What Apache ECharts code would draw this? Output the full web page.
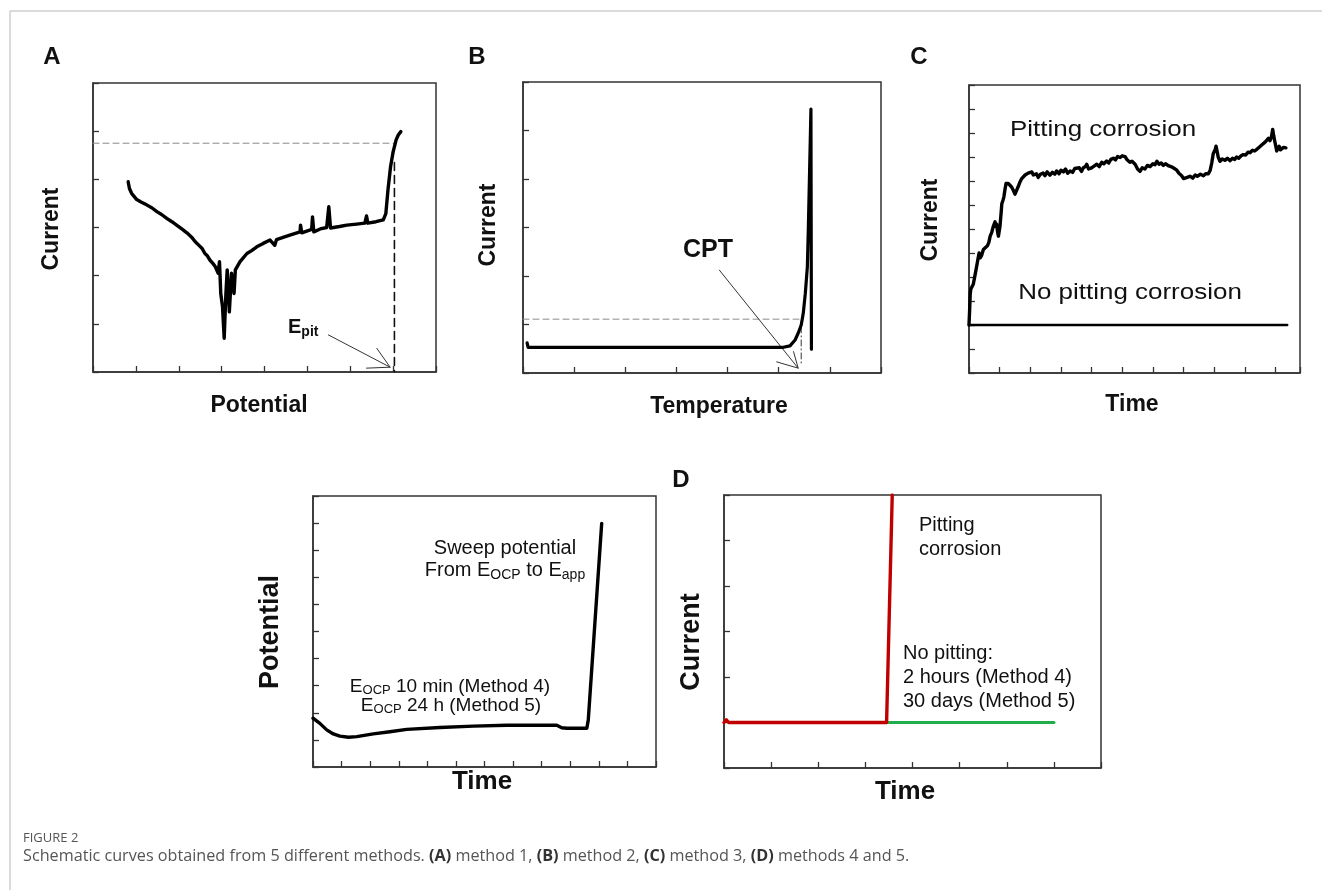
<!DOCTYPE html>
<html><head><meta charset="utf-8">
<script src="https://cdn.jsdelivr.net/npm/echarts@6/dist/echarts.min.js"></script>
<style>html,body{margin:0;padding:0;background:#fff}#c{width:1322px;height:890px}</style>
</head><body><div id="c"></div>
<script>
// ---------- Panel A: potentiodynamic polarization (Current vs Potential) ----------
const panelA_curve = [[0.82,3.95],[0.85,3.81],[0.9,3.71],[1.02,3.58],[1.12,3.53],[1.25,3.47],[1.37,3.41],[1.49,3.33],[1.6,3.27],[1.72,3.19],[1.84,3.12],[1.95,3.05],[2.07,2.97],[2.19,2.89],[2.3,2.8],[2.38,2.71],[2.46,2.64],[2.54,2.57],[2.61,2.46],[2.66,2.42],[2.73,2.32],[2.8,2.25],[2.85,2.19],[2.92,2.05],[2.95,2.29],[2.98,1.63],[3.02,1.36],[3.06,0.7],[3.1,1.63],[3.13,2.12],[3.18,1.25],[3.23,2.05],[3.29,1.63],[3.32,2.12],[3.43,2.29],[3.59,2.46],[3.7,2.52],[3.82,2.6],[3.97,2.67],[4.13,2.74],[4.24,2.63],[4.28,2.75],[4.45,2.8],[4.59,2.84],[4.83,2.91],[4.84,3.05],[4.87,2.89],[5.1,2.96],[5.12,3.22],[5.15,2.91],[5.3,2.97],[5.45,3.0],[5.5,3.43],[5.54,2.99],[5.75,3.02],[5.92,3.05],[6.15,3.07],[6.34,3.09],[6.38,3.24],[6.41,3.09],[6.6,3.12],[6.77,3.16],[6.83,3.29],[6.88,3.78],[6.94,4.26],[7.0,4.57],[7.07,4.82],[7.12,4.92],[7.18,4.99]];
const panelA_hDash = [[0,4.75],[7.03,4.75]];
const panelA_vDash = [[7.03,4.35],[7.03,0]];
const panelA_arrowShaft = [[5.49,0.77],[6.93,0.1]];
const panelA_arrowHead = [[6.62,0.49],[6.93,0.1],[6.38,0.08]];

// ---------- Panel B: critical pitting temperature (Current vs Temperature) ----------
const panelB_curve = [[0.08,0.62],[0.1,0.53],[0.5,0.53],[1.57,0.53],[3.0,0.53],[5.09,0.53],[5.22,0.56],[5.32,0.68],[5.38,0.82],[5.44,0.99],[5.48,1.23],[5.52,1.64],[5.56,2.19],[5.58,3.02],[5.6,3.98],[5.63,5.44],[5.64,5.44],[5.64,0.49]];
const panelB_hDash = [[0,1.11],[5.42,1.11]];
const panelB_vDashDot = [[5.44,0.95],[5.44,0.16]];
const panelB_arrowShaft = [[3.84,2.12],[5.38,0.1]];
const panelB_arrowHead = [[4.96,0.23],[5.38,0.1],[5.29,0.44]];

// ---------- Panel C: potentiostatic (Current vs Time) ----------
const panelC_pitting = [[0,2.0],[0.02,2.6],[0.04,3.3],[0.06,3.5],[0.1,3.45],[0.14,3.7],[0.2,4.1],[0.25,4.45],[0.3,4.8],[0.33,5.0],[0.37,4.8],[0.41,4.9],[0.47,5.15],[0.53,5.1],[0.6,5.3],[0.65,5.45],[0.69,5.7],[0.74,5.85],[0.79,6.1],[0.85,6.3],[0.88,6.1],[0.9,6.2],[0.93,5.9],[0.96,5.7],[1.01,6.1],[1.05,6.7],[1.07,7.05],[1.11,7.2],[1.14,7.35],[1.18,7.7],[1.21,7.9],[1.25,7.95],[1.28,7.9],[1.33,7.95],[1.39,7.75],[1.45,7.6],[1.5,7.45],[1.55,7.6],[1.61,7.78],[1.66,7.95],[1.72,8.1],[1.78,8.05],[1.83,8.25],[1.88,8.2],[1.93,8.33],[1.98,8.4],[2.05,8.38],[2.1,8.25],[2.15,8.18],[2.2,8.3],[2.26,8.15],[2.33,8.28],[2.42,8.33],[2.48,8.22],[2.55,8.38],[2.64,8.24],[2.72,8.36],[2.8,8.28],[2.86,8.42],[2.94,8.3],[3.0,8.45],[3.08,8.38],[3.15,8.5],[3.22,8.32],[3.3,8.42],[3.38,8.36],[3.45,8.52],[3.51,8.44],[3.6,8.55],[3.67,8.4],[3.73,8.55],[3.8,8.6],[3.84,8.7],[3.9,8.5],[4.0,8.55],[4.08,8.62],[4.17,8.7],[4.25,8.6],[4.33,8.78],[4.4,8.72],[4.49,8.83],[4.56,8.75],[4.63,8.9],[4.71,8.95],[4.78,8.88],[4.85,9.02],[4.93,8.98],[5.0,9.05],[5.09,9.02],[5.15,8.9],[5.25,8.78],[5.32,8.82],[5.42,8.7],[5.5,8.5],[5.58,8.4],[5.65,8.55],[5.74,8.5],[5.82,8.65],[5.91,8.6],[6.0,8.72],[6.07,8.68],[6.13,8.82],[6.2,8.7],[6.27,8.75],[6.34,8.65],[6.42,8.72],[6.5,8.64],[6.56,8.68],[6.63,8.58],[6.7,8.52],[6.78,8.45],[6.85,8.32],[6.94,8.22],[7.0,8.1],[7.05,8.04],[7.12,8.15],[7.21,8.2],[7.3,8.12],[7.38,8.25],[7.45,8.2],[7.55,8.28],[7.65,8.22],[7.72,8.3],[7.81,8.3],[7.87,8.45],[7.92,8.75],[7.97,9.15],[8.03,9.3],[8.06,9.45],[8.1,9.2],[8.13,9.0],[8.19,8.82],[8.26,8.92],[8.35,8.86],[8.43,8.95],[8.52,8.85],[8.6,8.95],[8.67,8.9],[8.73,9.0],[8.8,8.95],[8.88,9.05],[8.95,9.1],[9.03,9.08],[9.1,9.2],[9.17,9.18],[9.25,9.28],[9.32,9.25],[9.39,9.32],[9.46,9.4],[9.55,9.5],[9.6,9.45],[9.66,9.62],[9.72,9.7],[9.77,9.78],[9.82,9.68],[9.87,9.85],[9.91,10.15],[9.94,9.9],[9.97,9.7],[10.01,9.45],[10.04,9.25],[10.08,9.35],[10.12,9.45],[10.16,9.3],[10.2,9.3],[10.26,9.4],[10.3,9.35],[10.34,9.38]];
const panelC_noPitting = [[0,2.0],[10.38,2.0]];

// ---------- Panel D (left): Potential vs Time ----------
const panelD1_potential = [[0,1.8],[0.24,1.61],[0.48,1.37],[0.71,1.22],[0.94,1.14],[1.24,1.1],[1.53,1.12],[2.11,1.22],[2.69,1.3],[3.28,1.39],[4.44,1.46],[5.61,1.51],[6.78,1.54],[7.94,1.54],[8.53,1.54],[8.7,1.45],[8.88,1.43],[9.58,1.43],[9.63,1.73],[10.1,8.99]];

// ---------- Panel D (right): Current vs Time ----------
const panelD2_pitting = [[0,1.0],[0.05,1.06],[0.1,1.0],[3.45,1.0],[3.57,6.0]];
const panelD2_noPitting = [[3.45,1.0],[7.0,1.0]];

// axis ranges per panel [min, max, interval]
const axisX = [[0,8,1],[0,7,1],[0,10.8,1],[0,12,1],[0,8,1]];
const axisY = [[0,6,1],[0,6,1],[0,12,1],[0,10,1],[0,6,1]];

const FF = '"Liberation Sans", Arial, Helvetica, sans-serif';
const CF = '"Open Sans", sans-serif';
const grids = [
  {left:93, top:83, width:343, height:289},
  {left:523, top:82, width:358, height:291},
  {left:969, top:85, width:331, height:288},
  {left:313, top:496, width:343, height:271},
  {left:724, top:495, width:377, height:273}
];
function mkAxis(i, r){
  return {type:'value', gridIndex:i, min:r[0], max:r[1], interval:r[2],
    axisLine:{show:true, onZero:false, lineStyle:{color:'#333', width:1.5}},
    axisTick:{show:true, inside:true, length:6, lineStyle:{color:'#333', width:1.3}},
    axisLabel:{show:false}, splitLine:{show:false}};
}
function line(i, data, color, width, type, z){
  return {type:'line', xAxisIndex:i, yAxisIndex:i, data:data, symbol:'none', silent:true,
    z: z||2, lineStyle:{color:color, width:width, type:type||'solid', cap:'round', join:'round'}};
}
function txt(x, y, text, font, opts){
  opts = opts||{};
  const el = {type:'text', x:x, y:y, z:100, silent:true,
    style:{text:text, font:font, fill:opts.fill||'#111', textAlign:opts.align||'center', align:opts.align||'center',
      textVerticalAlign:'middle', verticalAlign:'middle'}};
  if (opts.rot) el.rotation = opts.rot;
  if (opts.sx) el.scaleX = opts.sx;
  if (opts.rich) { el.style.rich = opts.rich; }
  return el;
}
const R90 = Math.PI/2;
const subRich = (size, sub, weight, lh) => ({
  n:{fontSize:size, fontFamily:FF, fontWeight:weight, fill:'#111', lineHeight:size+(lh||4)},
  s:{fontSize:sub, fontFamily:FF, fontWeight:weight, fill:'#111', verticalAlign:'bottom', lineHeight:sub-(lh?0:2)}
});

const graphics = [
  {type:'line', shape:{x1:10, y1:11, x2:1322, y2:11}, style:{stroke:'#cfcfcf', lineWidth:1.5}, silent:true},
  {type:'line', shape:{x1:10, y1:11, x2:10, y2:890}, style:{stroke:'#cfcfcf', lineWidth:1.5}, silent:true},
  txt(52,57,'A','bold 24px '+FF),
  txt(477,57,'B','bold 24px '+FF),
  txt(919,57,'C','bold 24px '+FF),
  txt(681,480,'D','bold 24px '+FF),
  txt(52,229,'Current','bold 23px '+FF,{rot:R90}),
  txt(259,406,'Potential','bold 23px '+FF),
  txt(489,225,'Current','bold 23px '+FF,{rot:R90}),
  txt(719,407,'Temperature','bold 23px '+FF),
  txt(931,220,'Current','bold 23px '+FF,{rot:R90}),
  txt(1132,405,'Time','bold 23px '+FF),
  txt(271,632,'Potential','bold 27px '+FF,{rot:R90}),
  txt(482,782,'Time','bold 26px '+FF),
  txt(692,642,'Current','bold 27px '+FF,{rot:R90}),
  txt(905,792,'Time','bold 26px '+FF),
  txt(708,250,'CPT','bold 25px '+FF),
  txt(288,327,'{n|E}{s|pit}','bold 20px '+FF,{align:'left', rich:subRich(20,14,'bold')}),
  txt(1103,130,'Pitting corrosion','22px '+FF,{sx:1.18}),
  txt(1130,293,'No pitting corrosion','22px '+FF,{sx:1.18}),
  txt(505,548,'Sweep potential','20px '+FF),
  txt(505,570,'{n|From E}{s|OCP}{n| to E}{s|app}','20px '+FF,{rich:subRich(20,14,'normal')}),
  txt(450,687,'{n|E}{s|OCP}{n| 10 min (Method 4)}','19px '+FF,{rich:subRich(19,13,'normal',1)}),
  txt(451,706,'{n|E}{s|OCP}{n| 24 h (Method 5)}','19px '+FF,{rich:subRich(19,13,'normal',1)}),
  txt(919,525,'Pitting','20px '+FF,{align:'left'}),
  txt(919,549,'corrosion','20px '+FF,{align:'left'}),
  txt(903,653,'No pitting:','20px '+FF,{align:'left'}),
  txt(903,677,'2 hours (Method 4)','20px '+FF,{align:'left'}),
  txt(903,701,'30 days (Method 5)','20px '+FF,{align:'left'}),
  txt(23,838,'FIGURE 2','13px '+CF,{align:'left', fill:'#555'}),
  txt(23,856,'{t|Schematic curves obtained from 5 different methods. }{b|(A)}{t| method 1, }{b|(B)}{t| method 2, }{b|(C)}{t| method 3, }{b|(D)}{t| methods 4 and 5.}',
      '16.2px '+CF,{align:'left', rich:{
        t:{fontSize:16.2, fontFamily:CF, fill:'#555'},
        b:{fontSize:16.2, fontFamily:CF, fontWeight:'bold', fill:'#333'}}})
];

const option = {
  animation:false,
  backgroundColor:'#fff',
  grid: grids.map(g => Object.assign({show:true, borderColor:'#333', borderWidth:1.5, backgroundColor:'transparent'}, g)),
  xAxis: axisX.map((r,i) => mkAxis(i, r)),
  yAxis: axisY.map((r,i) => mkAxis(i, r)),
  series: [
    line(0, panelA_hDash, '#8a8a8a', 1, [6,4]),
    line(0, panelA_vDash, '#111', 1.6, [8,5]),
    line(0, panelA_arrowShaft, '#333', 1),
    line(0, panelA_arrowHead, '#333', 1),
    line(0, panelA_curve, '#000', 3.4, 'solid', 5),
    line(1, panelB_hDash, '#8a8a8a', 1, [6,4]),
    line(1, panelB_vDashDot, '#333', 1, [6,3,1,3]),
    line(1, panelB_arrowShaft, '#333', 1),
    line(1, panelB_arrowHead, '#333', 1),
    line(1, panelB_curve, '#000', 3.2, 'solid', 5),
    line(2, panelC_noPitting, '#000', 2.6),
    line(2, panelC_pitting, '#000', 3.4, 'solid', 5),
    line(3, panelD1_potential, '#000', 3.4, 'solid', 5),
    line(4, panelD2_noPitting, '#1fae4b', 3.2),
    line(4, panelD2_pitting, '#c00000', 3.4, 'solid', 5)
  ],
  graphic: {elements: graphics}
};
const chart = echarts.init(document.getElementById('c'), null, {renderer:'canvas'});
chart.setOption(option);
</script></body></html>
